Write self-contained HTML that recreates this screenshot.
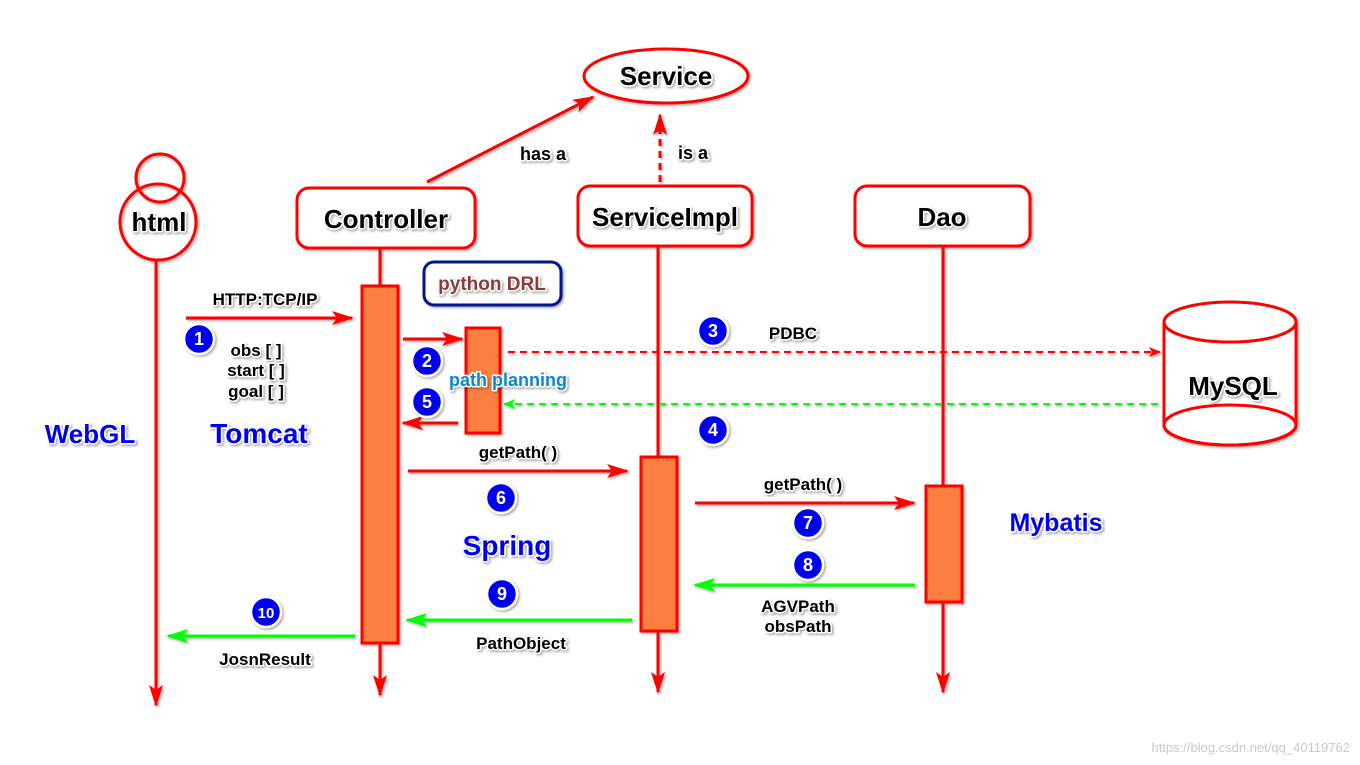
<!DOCTYPE html>
<html><head><meta charset="utf-8"><style>
html,body{margin:0;padding:0;background:#fff;}
svg{display:block;}
text{font-family:"Liberation Sans",sans-serif;font-weight:bold;}
.h{paint-order:stroke;stroke:#fff;stroke-width:3px;stroke-linejoin:round;}
</style></head><body>
<svg width="1360" height="765" viewBox="0 0 1360 765" xmlns="http://www.w3.org/2000/svg">
<defs>
<marker id="ar" markerWidth="12" markerHeight="10" refX="11" refY="5" orient="auto" markerUnits="userSpaceOnUse"><path d="M0,0 L12,5 L0,10 L3,5z" fill="#f00"/></marker>
<marker id="ag" markerWidth="12" markerHeight="10" refX="11" refY="5" orient="auto" markerUnits="userSpaceOnUse"><path d="M0,0 L12,5 L0,10 L3,5z" fill="#0f0"/></marker>
<marker id="arb" markerWidth="22" markerHeight="14" refX="20" refY="7" orient="auto" markerUnits="userSpaceOnUse"><path d="M0,0 L22,7 L0,14 L5,7z" fill="#f00"/></marker>
<marker id="agb" markerWidth="22" markerHeight="14" refX="20" refY="7" orient="auto" markerUnits="userSpaceOnUse"><path d="M0,0 L22,7 L0,14 L5,7z" fill="#0f0"/></marker>
<filter id="sh"><feDropShadow dx="1.5" dy="1.5" stdDeviation="1.2" flood-color="#000" flood-opacity="0.35"/></filter>
</defs>
<g filter="url(#sh)">
<ellipse cx="666" cy="76" rx="82" ry="27" fill="#fff" stroke="#f00" stroke-width="3"/>
<line x1="427" y1="182" x2="593" y2="97" stroke="#f00" stroke-width="3" marker-end="url(#arb)"/>
<line x1="660" y1="182" x2="660" y2="115" stroke="#f00" stroke-width="3" stroke-dasharray="7,5" marker-end="url(#arb)"/>
<line x1="156" y1="260" x2="156" y2="705" stroke="#f00" stroke-width="3" marker-end="url(#arb)"/>
<line x1="380" y1="248" x2="380" y2="695" stroke="#f00" stroke-width="3" marker-end="url(#arb)"/>
<line x1="658" y1="246" x2="658" y2="692" stroke="#f00" stroke-width="3" marker-end="url(#arb)"/>
<line x1="943" y1="246" x2="943" y2="692" stroke="#f00" stroke-width="3" marker-end="url(#arb)"/>
<circle cx="160" cy="178" r="24" fill="none" stroke="#f00" stroke-width="3"/>
<circle cx="158" cy="222" r="38" fill="none" stroke="#f00" stroke-width="3"/>
<rect x="297" y="188" width="178" height="60" rx="12" fill="#fff" stroke="#f00" stroke-width="3"/>
<rect x="578" y="186" width="174" height="60" rx="12" fill="#fff" stroke="#f00" stroke-width="3"/>
<rect x="855" y="186" width="175" height="60" rx="12" fill="#fff" stroke="#f00" stroke-width="3"/>
<rect x="424" y="262" width="137" height="43" rx="10" fill="#fff" stroke="#00168a" stroke-width="3"/>
<rect x="362" y="286" width="36" height="357" fill="#fd7f40" stroke="#f00" stroke-width="3"/>
<rect x="466" y="328" width="34" height="105" fill="#fd7f40" stroke="#f00" stroke-width="3"/>
<rect x="641" y="457" width="36" height="174" fill="#fd7f40" stroke="#f00" stroke-width="3"/>
<rect x="926" y="486" width="36" height="116" fill="#fd7f40" stroke="#f00" stroke-width="3"/>
<path d="M1164,322 L1164,425 A66,20 0 0 0 1296,425 L1296,322" fill="#fff" stroke="#f00" stroke-width="3"/>
<ellipse cx="1230" cy="322" rx="66" ry="20" fill="#fff" stroke="#f00" stroke-width="3"/>
<ellipse cx="1230" cy="425" rx="66" ry="20" fill="none" stroke="#f00" stroke-width="3"/>
<line x1="186" y1="318" x2="352" y2="318" stroke="#f00" stroke-width="3" marker-end="url(#arb)"/>
<line x1="403" y1="339" x2="462" y2="339" stroke="#f00" stroke-width="3" marker-end="url(#arb)"/>
<line x1="458" y1="423" x2="403" y2="423" stroke="#f00" stroke-width="3" marker-end="url(#arb)"/>
<line x1="508" y1="352" x2="1160" y2="352" stroke="#f00" stroke-width="2" stroke-dasharray="7,5" marker-end="url(#ar)"/>
<line x1="1158" y1="404" x2="504" y2="404" stroke="#0f0" stroke-width="2" stroke-dasharray="7,5" marker-end="url(#ag)"/>
<line x1="408" y1="471" x2="627" y2="471" stroke="#f00" stroke-width="3" marker-end="url(#arb)"/>
<line x1="695" y1="503" x2="914" y2="503" stroke="#f00" stroke-width="3" marker-end="url(#arb)"/>
<line x1="915" y1="585" x2="695" y2="585" stroke="#0f0" stroke-width="3" marker-end="url(#agb)"/>
<line x1="632" y1="620" x2="407" y2="620" stroke="#0f0" stroke-width="3" marker-end="url(#agb)"/>
<line x1="355" y1="636" x2="168" y2="636" stroke="#0f0" stroke-width="3" marker-end="url(#agb)"/>
<g fill="#0000ee" stroke="#fff" stroke-width="2.5">
<circle cx="199" cy="339" r="15"/><circle cx="427" cy="361" r="15"/><circle cx="713" cy="331" r="15"/>
<circle cx="713" cy="430" r="15"/><circle cx="427" cy="402" r="15"/><circle cx="501" cy="498" r="15"/>
<circle cx="808" cy="523" r="15"/><circle cx="808" cy="565" r="15"/><circle cx="502" cy="594" r="15"/>
<circle cx="266" cy="612" r="15"/>
</g>
</g>
<g fill="#fff" font-size="18" text-anchor="middle">
<text x="199" y="345">1</text><text x="427" y="367">2</text><text x="713" y="337">3</text>
<text x="713" y="436">4</text><text x="427" y="408">5</text><text x="501" y="504">6</text>
<text x="808" y="529">7</text><text x="808" y="571">8</text><text x="502" y="600">9</text>
<text x="266" y="618" font-size="15">10</text>
</g>
<g text-anchor="middle" fill="#000" filter="url(#sh)" class="h">
<text class="h" x="666" y="85" font-size="26">Service</text>
<text class="h" x="159" y="231" font-size="26">html</text>
<text class="h" x="386" y="228" font-size="26">Controller</text>
<text class="h" x="665" y="226" font-size="26">ServiceImpl</text>
<text class="h" x="942" y="226" font-size="26">Dao</text>
<text class="h" x="1233" y="395" font-size="26">MySQL</text>
<text class="h" x="492" y="290" font-size="19" fill="#8a3a3a">python DRL</text>
<text class="h" x="543" y="160" font-size="18">has a</text>
<text class="h" x="693" y="159" font-size="18">is a</text>
<text class="h" x="265" y="305" font-size="17">HTTP:TCP/IP</text>
<text class="h" x="256" y="356" font-size="17">obs  [  ]</text>
<text class="h" x="256" y="376" font-size="17">start [  ]</text>
<text class="h" x="256" y="397" font-size="17">goal [  ]</text>
<text class="h" x="508" y="386" font-size="18" fill="#0a86c8">path planning</text>
<text class="h" x="793" y="339" font-size="17">PDBC</text>
<text class="h" x="518" y="458" font-size="17">getPath( )</text>
<text class="h" x="803" y="490" font-size="17">getPath( )</text>
<text class="h" x="798" y="612" font-size="17">AGVPath</text>
<text class="h" x="798" y="632" font-size="17">obsPath</text>
<text class="h" x="521" y="649" font-size="17">PathObject</text>
<text class="h" x="265" y="665" font-size="17">JosnResult</text>
<text class="h" x="90" y="443" font-size="26" fill="#0000ee">WebGL</text>
<text class="h" x="259" y="443" font-size="28" fill="#0000ee">Tomcat</text>
<text class="h" x="507" y="555" font-size="28" fill="#0000ee">Spring</text>
<text class="h" x="1056" y="531" font-size="25" fill="#0000ee">Mybatis</text>
</g>
<text x="1350" y="752" font-size="13" text-anchor="end" fill="#c8c8c8" style="font-weight:normal">https://blog.csdn.net/qq_40119762</text>
</svg>
</body></html>
